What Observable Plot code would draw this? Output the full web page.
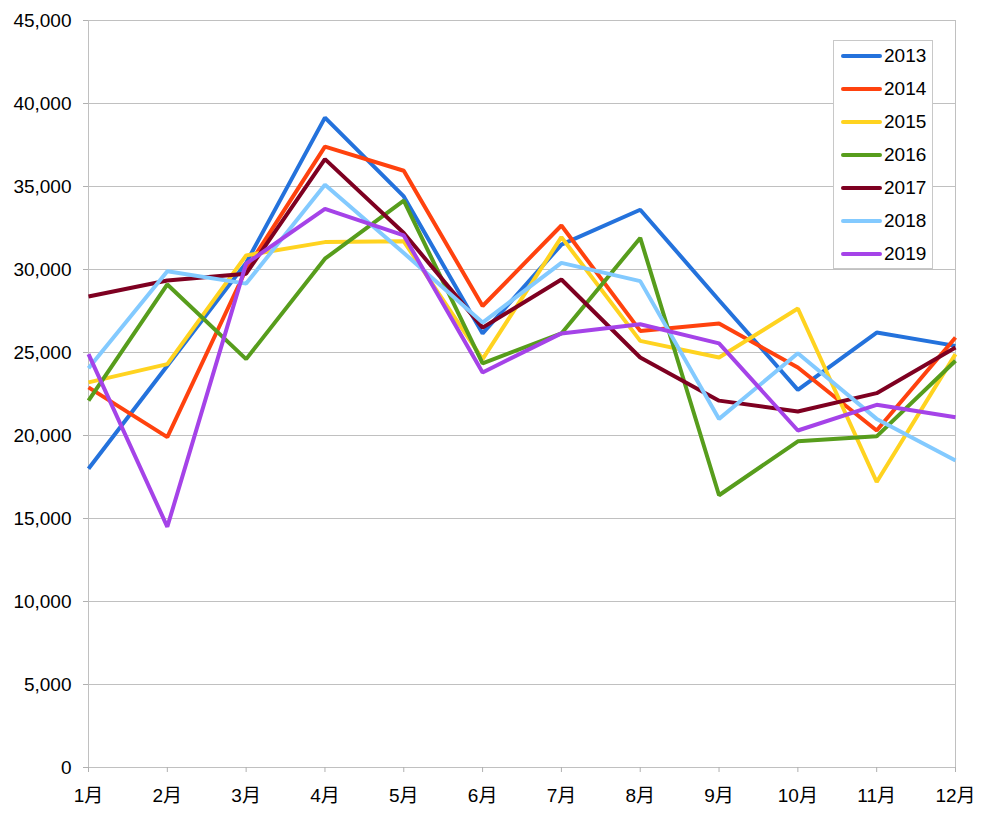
<!DOCTYPE html>
<html>
<head>
<meta charset="utf-8">
<script src="https://cdn.jsdelivr.net/npm/d3@7"></script>
<script src="https://cdn.jsdelivr.net/npm/@observablehq/plot@0.6"></script>
<style>
  html, body { margin: 0; padding: 0; background: #fff; }
  #wrap { position: relative; width: 1000px; height: 825px; }
  #legend {
    position: absolute; left: 833px; top: 40px; width: 100px; height: 229px;
    border: 1px solid #c8c8c8; background: #fff; box-sizing: border-box;
    font-family: "Liberation Sans", Arial, sans-serif; font-size: 19px; color: #000;
  }
  .item { position: absolute; left: 0; height: 20px; }
  .swatch { position: absolute; left: 7px; width: 41px; height: 4px; border-radius: 2px; }
  .lab { position: absolute; left: 50px; top: -11px; line-height: 22px; }
</style>
</head>
<body>
<div id="wrap"><div id="legend"></div></div>
<script>
const months = ["1月","2月","3月","4月","5月","6月","7月","8月","9月","10月","11月","12月"];
const years = ["2013","2014","2015","2016","2017","2018","2019"];
const colors = ["#2472dc","#ff420e","#ffd320","#579d1c","#7e0021","#83caff","#a543e8"];
const yTicks = [0,5000,10000,15000,20000,25000,30000,35000,40000,45000];

const v2013 = [18000,24200,30400,39150,34400,26150,31500,33600,28150,22750,26200,25400];
const v2014 = [22900,19900,30000,37400,35950,27800,32650,26300,26750,24100,20300,25900];
const v2015 = [23200,24300,30850,31650,31700,24600,31950,25700,24700,27650,17200,24900];
const v2016 = [22100,29100,24600,30650,34150,24350,26150,31900,16400,19650,19950,24500];
const v2017 = [28370,29340,29750,36650,32200,26500,29400,24700,22100,21450,22550,25300];
const v2018 = [24050,29900,29150,35100,31000,26800,30400,29300,21000,24950,21000,18500];
const v2019 = [24900,14500,30350,33650,32050,23800,26150,26700,25550,20300,21850,21100];

const series = [v2013,v2014,v2015,v2016,v2017,v2018,v2019];
const data = years.flatMap((yr, i) => series[i].map((v, j) => ({year: yr, month: months[j], value: v})));

const font = '"Liberation Sans", Arial, "Noto Sans CJK JP", sans-serif';

const chart = Plot.plot({
  width: 1000,
  height: 825,
  marginLeft: 88,
  marginRight: 45,
  marginTop: 20,
  marginBottom: 58,
  style: {fontFamily: font, fontSize: "19px", color: "#000", background: "#fff"},
  x: {type: "point", domain: months, padding: 0, round: false, label: null},
  y: {domain: [0, 45000], label: null},
  color: {domain: years, range: colors},
  marks: [
    Plot.ruleY(yTicks, {stroke: "#c0c0c0", strokeWidth: 1}),
    Plot.ruleX([months[0], months[11]], {stroke: "#c0c0c0", strokeWidth: 1}),
    Plot.axisY({ticks: yTicks, tickFormat: d3.format(","), tickSize: 5, tickPadding: 12, stroke: "#b0b0b0", fill: "#000", label: null}),
    Plot.axisX({tickSize: 5, tickPadding: 16, stroke: "#b0b0b0", fill: "#000", label: null}),
    Plot.line(data, {x: "month", y: "value", z: "year", stroke: "year", strokeWidth: 4, strokeLinejoin: "miter", strokeLinecap: "butt"})
  ]
});
const wrap = document.getElementById("wrap");
wrap.insertBefore(chart, wrap.firstChild);

const legend = document.getElementById("legend");
years.forEach((yr, i) => {
  const item = document.createElement("div");
  item.className = "item";
  item.style.top = (15 + i * 33) + "px";
  const sw = document.createElement("div");
  sw.className = "swatch";
  sw.style.background = colors[i];
  sw.style.top = "-2px";
  const lab = document.createElement("div");
  lab.className = "lab";
  lab.textContent = yr;
  item.appendChild(sw);
  item.appendChild(lab);
  legend.appendChild(item);
});
</script>
</body>
</html>
